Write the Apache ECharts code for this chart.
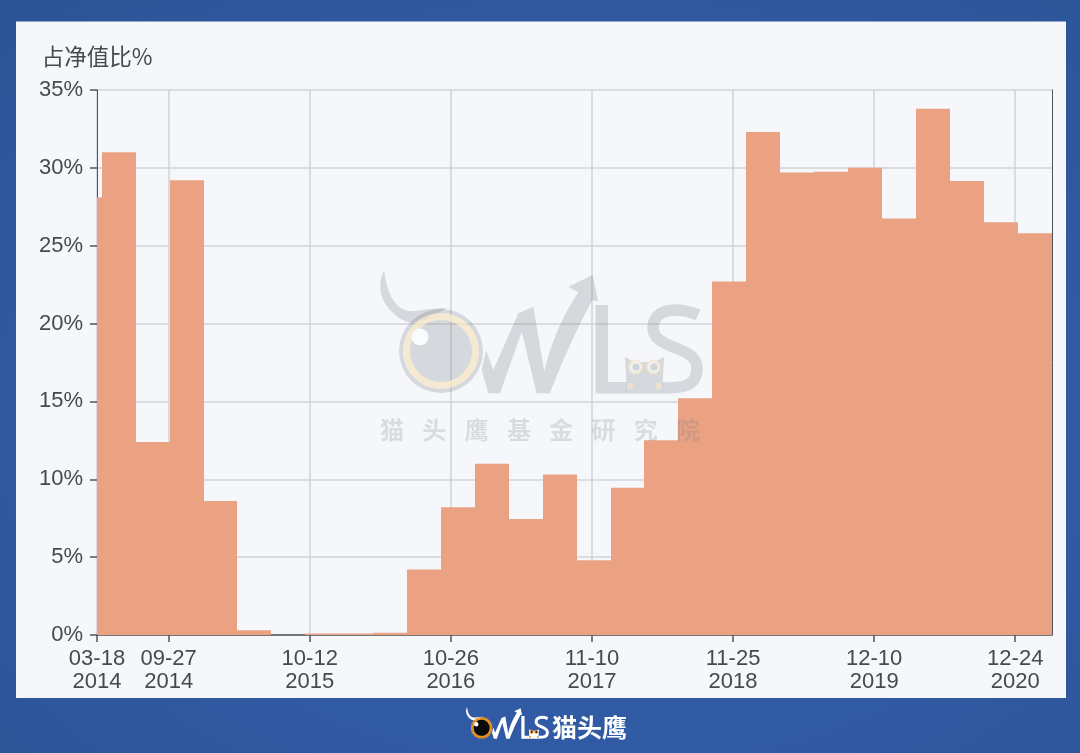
<!DOCTYPE html>
<html>
<head>
<meta charset="utf-8">
<style>
html,body{margin:0;padding:0;width:1080px;height:753px;overflow:hidden;background:radial-gradient(ellipse at 55% 55%,#3462ad 0%,#305aa3 60%,#2c5395 100%);}
#chart{width:1080px;height:753px;}
</style>
<script src="https://cdn.jsdelivr.net/npm/echarts@6/dist/echarts.min.js"></script>
</head>
<body>
<div id="chart"></div>
<script>
// Report periods: each value holds from its start date to the next start date
var periodStarts = ['2014-03-18','2014-03-31','2014-06-30','2014-09-30','2014-12-31','2015-03-31','2015-06-30','2015-09-30','2015-12-31','2016-03-31','2016-06-30','2016-09-30','2016-12-31','2017-03-31','2017-06-30','2017-09-30','2017-12-31','2018-03-31','2018-06-30','2018-09-30','2018-12-31','2019-03-31','2019-06-30','2019-09-30','2019-12-31','2020-03-31','2020-06-30','2020-09-30','2020-12-31'];
var axisEnd = '2021-04-02';
var shareOfNav = [28.1,31.0,12.4,29.2,8.6,0.3,0,0.1,0.1,0.15,4.2,8.2,11.0,7.45,10.3,4.8,9.45,12.5,15.2,22.7,32.3,29.7,29.75,30.0,26.75,33.8,29.15,26.5,25.8];
var tickDates = ['2014-03-18','2014-09-27','2015-10-12','2016-10-26','2017-11-10','2018-11-25','2019-12-10','2020-12-24'];
var tickLabels = ['03-18\n2014','09-27\n2014','10-12\n2015','10-26\n2016','11-10\n2017','11-25\n2018','12-10\n2019','12-24\n2020'];
var yAxisName = '占净值比%';
var instituteChars = ['猫','头','鹰','基','金','研','究','院'];
var brandName = '猫头鹰';

function ts(s){var p=s.split('-');return Date.UTC(+p[0],+p[1]-1,+p[2]);}
var tickTimes = tickDates.map(ts);
var bars = periodStarts.map(function(s,i){
  return [ts(s), ts(i+1<periodStarts.length?periodStarts[i+1]:axisEnd), shareOfNav[i]];
});

// Logo shapes
var G = echarts.graphic;
G.registerShape('logoHorn', G.extendPath('M383 272 C378 285 380 297 387 306 C394 316 403 321 411 323 L426 320 L447 308 C438 308 431 309 423 310 C414 312 405 312 398 306 C390 298 386 286 384.5 272 Z',{}));
G.registerShape('logoW', G.extendPath('M481.7 370 L488.3 393.3 L500 393.3 L521.7 331.7 L536.7 393.3 L550 393.3 C566.7 350 580 323.3 592.3 300 L598.3 301.7 L592.7 275 L568.3 286.7 L578.3 292.3 C560 320 550 346.7 544.3 371.7 L533.3 306.7 L518.3 313.3 L493.3 370 L486 350 Z',{}));
G.registerShape('logoL', G.extendPath('M595.5 305 L608 305 L608 382 L627 382 L627 393.5 L595.5 393.5 Z',{}));
G.registerShape('logoS', G.extendPath('M698 315 C680 307 653 307 653 328 C653 350 697 345 697 368 C697 388 680 388 662 388',{}));
G.registerShape('logoOwl', G.extendPath('M625 357 L634 362 L655 362 L664 357 L662 393.5 L627 393.5 Z',{}));

function logo(c,z){
  function f(type,shape,fill){return {type:type,z:z,silent:true,shape:shape,style:{fill:fill}};}
  return [
    f('logoHorn',{},c.body),
    f('ring',{cx:441,cy:351,r:42,r0:38},c.rim),
    f('ring',{cx:441,cy:351,r:38,r0:31},c.iris),
    f('circle',{cx:441,cy:351,r:31},c.pupil),
    f('circle',{cx:420,cy:337,r:8.5},c.glint),
    f('logoW',{},c.body),
    f('logoL',{},c.body),
    {type:'logoS',z:z,silent:true,shape:{},style:{fill:null,stroke:c.body,lineWidth:11.5}},
    f('logoOwl',{},c.owl),
    {type:'circle',z:z,silent:true,shape:{cx:635.5,cy:367,r:6.5},style:{fill:c.owlEye,stroke:c.iris,lineWidth:2}},
    {type:'circle',z:z,silent:true,shape:{cx:653.5,cy:367,r:6.5},style:{fill:c.owlEye,stroke:c.iris,lineWidth:2}},
    f('circle',{cx:636,cy:367,r:3.5},c.owlPupil),
    f('circle',{cx:654,cy:367,r:3.5},c.owlPupil),
    f('rect',{x:627,y:383,width:6,height:6},c.iris),
    f('rect',{x:656,y:383,width:6,height:6},c.iris)
  ];
}
var wmGrey='rgba(120,124,132,0.25)';
var wmColors={body:wmGrey,rim:wmGrey,iris:'rgba(246,228,196,0.75)',pupil:wmGrey,glint:'#fafbfd',owl:wmGrey,owlEye:'rgba(246,247,250,0.8)',owlPupil:wmGrey};
var footColors={body:'#ffffff',rim:'#f0951c',iris:'#f0951c',pupil:'#0a0a0a',glint:'#ffffff',owl:'#ffffff',owlEye:'#f0951c',owlPupil:'#111111'};

var graphicEls=[
  {type:'rect',z:-10,silent:true,shape:{x:16,y:21.5,width:1050,height:676.5},style:{fill:'#f5f7fb'}},
  {type:'group',x:0,y:0,children:logo(wmColors,100)},
  {type:'group',x:368.3,y:637.6,scaleX:0.257,scaleY:0.257,children:logo(footColors,100)},
  {type:'text',z:100,silent:true,x:552,y:715,style:{text:brandName,fill:'#fff',font:'bold 25px "Noto Sans CJK SC"'}}
];
instituteChars.forEach(function(ch,i){
  graphicEls.push({type:'text',z:100,silent:true,x:380+i*42.3,y:418,style:{text:ch,fill:'rgba(120,124,132,0.23)',font:'bold 24px "Noto Sans CJK SC"'}});
});

var chart=echarts.init(document.getElementById('chart'),null,{renderer:'canvas'});
var labelColor='#444a50', axisColor='#50545a', gridColor='#d0d3d8';
var font='"Liberation Sans",Helvetica,Arial,sans-serif';
chart.setOption({
  backgroundColor:'transparent',
  animation:false,
  graphic:{elements:graphicEls},
  grid:{left:97,right:28,top:90,bottom:118,containLabel:false},
  xAxis:{
    type:'value',
    min:ts(periodStarts[0]),
    max:ts(axisEnd),
    scale:true,
    axisLine:{onZero:false,lineStyle:{color:axisColor,width:1.5}},
    axisTick:{show:true,length:7,customValues:tickTimes,lineStyle:{color:axisColor,width:1.5}},
    axisLabel:{
      show:true,
      customValues:tickTimes,
      hideOverlap:false,
      alignMinLabel:'center',
      alignMaxLabel:'center',
      margin:12,
      color:labelColor,
      fontFamily:font,
      fontSize:22,
      lineHeight:23.5,
      formatter:function(v){var i=tickTimes.indexOf(+v);return i>=0?tickLabels[i]:'';}
    },
    splitLine:{show:true,lineStyle:{color:gridColor,width:1.5}}
  },
  yAxis:[{
    type:'value',min:0,max:35,interval:5,
    name:yAxisName,
    nameLocation:'end',
    nameGap:22,
    nameTextStyle:{color:labelColor,fontSize:22.5,fontFamily:'"Noto Sans CJK SC"'},
    axisLine:{show:true,onZero:false,lineStyle:{color:axisColor,width:1}},
    axisTick:{show:true,length:7,lineStyle:{color:axisColor,width:1.5}},
    axisLabel:{color:labelColor,fontFamily:font,fontSize:22,margin:14,padding:[2,0,0,0],formatter:'{value}%'},
    splitLine:{show:true,lineStyle:{color:gridColor,width:1.5}}
  },{
    type:'value',min:0,max:35,interval:5,position:'right',
    axisLine:{show:true,onZero:false,lineStyle:{color:axisColor,width:1}},
    axisTick:{show:false},axisLabel:{show:false},splitLine:{show:false}
  }],
  series:[{
    type:'custom',
    name:yAxisName,
    yAxisIndex:0,
    clip:true,
    data:bars,
    encode:{x:[0,1],y:2},
    renderItem:function(params,api){
      var a=api.coord([api.value(0),api.value(2)]);
      var b=api.coord([api.value(1),0]);
      var x0=Math.round(a[0]), x1=Math.round(b[0]);
      return {type:'rect',shape:{x:x0,y:a[1],width:x1-x0,height:b[1]-a[1]},style:{fill:'#eba282'}};
    }
  }]
});
</script>
</body>
</html>
